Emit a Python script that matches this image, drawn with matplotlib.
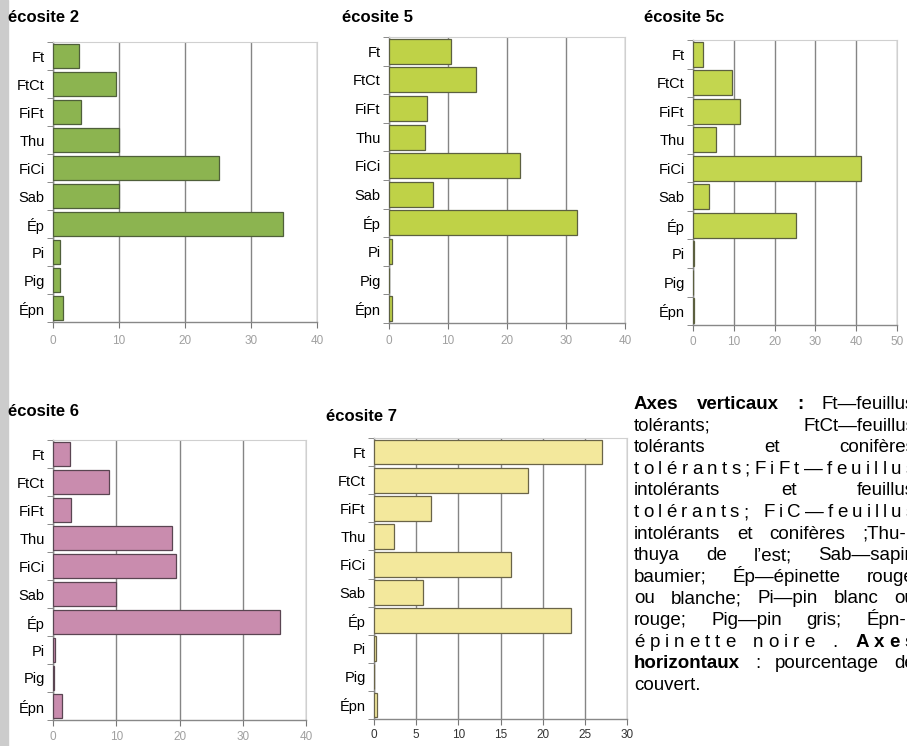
import numpy as np
import matplotlib
matplotlib.use("Agg")
import matplotlib.pyplot as plt
from matplotlib.patches import Rectangle

W, H = 907, 746
FF = ['Liberation Sans', 'DejaVu Sans']
plt.rcParams['font.family'] = FF

# data ------------------------------------------------------------
cats = ['Ft', 'FtCt', 'FiFt', 'Thu', 'FiCi', 'Sab', 'Ép', 'Pi', 'Pig', 'Épn']

eco2 = [3.9, 9.5, 4.2, 10.0, 25.1, 10.0, 34.9, 1.0, 1.0, 1.5]
eco5 = [10.5, 14.8, 6.4, 6.1, 22.2, 7.4, 31.9, 0.45, 0.05, 0.55]
eco5c = [2.5, 9.5, 11.6, 5.7, 41.2, 3.9, 25.3, 0.3, 0.0, 0.3]
eco6 = [2.7, 8.9, 2.9, 18.8, 19.4, 9.95, 35.9, 0.35, 0.1, 1.5]
eco7 = [27.0, 18.3, 6.8, 2.4, 16.2, 5.8, 23.4, 0.2, 0.0, 0.35]

titles = ['écosite 2', 'écosite 5', 'écosite 5c', 'écosite 6', 'écosite 7']
xticks2 = [0, 10, 20, 30, 40]
xticks5c = [0, 10, 20, 30, 40, 50]
xticks7 = [0, 5, 10, 15, 20, 25, 30]

# panel layout in pixels: left, top, right, bottom / title x, y / label pad
panels = [
    (eco2, titles[0], (53, 42, 317, 322), (8, 18), xticks2, 40, '#8cb450', '#4f5f3a', '#a0a0a0', 5),
    (eco5, titles[1], (389, 37, 625, 323), (342, 18), xticks2, 40, '#bfd247', '#5c6040', '#a0a0a0', 5),
    (eco5c, titles[2], (693, 40, 897, 325), (644, 18), xticks5c, 50, '#c3d64f', '#5c6040', '#a0a0a0', 4),
    (eco6, titles[3], (53, 440, 306, 720), (8, 412), xticks2, 40, '#c98cae', '#5a4552', '#a0a0a0', 4),
    (eco7, titles[4], (374, 438, 627, 719), (326, 416), xticks7, 30, '#f3e89c', '#6a6448', '#333333', 3),
]

fig = plt.figure(figsize=(W / 100, H / 100), dpi=100)
fig.patches.append(Rectangle((0, 0), 8 / W, 1, transform=fig.transFigure,
                             color='#cccccc', zorder=0))

for vals, title, (l, t, r, b), (tx, ty), ticks, xmax, fc, ec, tcol, lpad in panels:
    ax = fig.add_axes([l / W, 1 - b / H, (r - l) / W, (b - t) / H])
    y = np.arange(len(cats))
    ax.barh(y, vals, height=0.88, color=fc, edgecolor=ec, linewidth=0.9, zorder=3)
    ax.set_ylim(len(cats) - 0.5, -0.5)
    ax.set_xlim(0, xmax)
    ax.set_xticks(ticks)
    ax.set_xticklabels([str(v) for v in ticks], color=tcol, fontsize=8.5)
    ax.grid(axis='x', color='#858585', linewidth=1.0, zorder=0)
    ax.set_yticks(y)
    ax.set_yticklabels(cats, fontsize=10.5)
    ax.set_yticks(np.arange(-0.5, len(cats), 1), minor=True)
    ax.tick_params(axis='y', which='major', length=0, pad=6)
    ax.tick_params(axis='y', which='minor', length=4, color='#777777', direction='out')
    ax.tick_params(axis='x', length=4, color='#777777', pad=lpad)
    for s in ['left', 'bottom']:
        ax.spines[s].set_color('#888888')
        ax.spines[s].set_linewidth(1.0)
    for s in ['top', 'right']:
        ax.spines[s].set_color('#d0d0d0')
        ax.spines[s].set_linewidth(0.8)
    fig.text(tx / W, 1 - ty / H, title, fontsize=12, fontweight='bold',
             ha='left', va='center')

# justified legend text -------------------------------------------
text_lines = [
    ([('Axes', True), ('verticaux', True), (':', True), ('Ft—feuillus', False)], 'w', 915),
    ([('tolérants;', False), ('FtCt—feuillus', False)], 'w', 915),
    ([('tolérants', False), ('et', False), ('conifères', False)], 'w', 915),
    ([('tolérants;FiFt—feuillus', False)], 'c', 915),
    ([('intolérants', False), ('et', False), ('feuillus', False)], 'w', 915),
    ([('tolérants;', False), ('FiC—feuillus', False)], 'c', 915),
    ([(w, False) for w in 'intolérants et conifères ;Thu-'.split()], 'w', 906),
    ([(w, False) for w in 'thuya de l’est; Sab—sapin'.split()], 'w', 915),
    ([(w, False) for w in 'baumier; Ép—épinette rouge'.split()], 'w', 915),
    ([(w, False) for w in 'ou blanche; Pi—pin blanc ou'.split()], 'w', 915),
    ([(w, False) for w in 'rouge; Pig—pin gris; Épn-'.split()], 'w', 906),
    ([('épinette', False), ('noire', False), ('.', False), ('Axes', True)], 'c', 915),
    ([('horizontaux', True), (':', False), ('pourcentage', False), ('de', False)], 'w', 915),
    ([('couvert.', False)], 'l', 915),
]

fs = 13.5
x_left = 634
rend = fig.canvas.get_renderer()


def twidth(s, bold):
    tt = fig.text(0, 0, s, fontsize=fs, fontweight='bold' if bold else 'normal')
    wpx = tt.get_window_extent(rend).width
    tt.remove()
    return wpx


space_w = twidth('a a', False) - twidth('aa', False)

for i, (segs, mode, x_right) in enumerate(text_lines):
    base = 409 + i * 21.6
    yy = 1 - base / H
    if mode == 'l':
        x = x_left
        for wd, bold in segs:
            fig.text(x / W, yy, wd, fontsize=fs, fontweight='bold' if bold else 'normal',
                     ha='left', va='baseline')
            x += twidth(wd, bold) + space_w
    elif mode == 'w':
        widths = [twidth(wd, bold) for wd, bold in segs]
        gap = (x_right - x_left - sum(widths)) / max(len(segs) - 1, 1)
        x = x_left
        for (wd, bold), wpx in zip(segs, widths):
            fig.text(x / W, yy, wd, fontsize=fs, fontweight='bold' if bold else 'normal',
                     ha='left', va='baseline')
            x += wpx + gap
    else:
        # letter spaced justification
        chars = []
        for k, (wd, bold) in enumerate(segs):
            for j, ch in enumerate(wd):
                chars.append((ch, bold, k > 0 and j == 0))
        widths = [twidth(ch, bold) for ch, bold, _ in chars]
        nword = sum(1 for c in chars if c[2])
        ninner = len(chars) - 1 - nword
        extra = x_right - x_left - sum(widths) - nword * space_w
        unit = extra / (ninner + 2.5 * nword)
        x = x_left
        for (ch, bold, newword), wpx in zip(chars, widths):
            if newword:
                x += space_w + 1.5 * unit
            fig.text(x / W, yy, ch, fontsize=fs, fontweight='bold' if bold else 'normal',
                     ha='left', va='baseline')
            x += wpx + unit

fig.savefig('out.png', dpi=100)
